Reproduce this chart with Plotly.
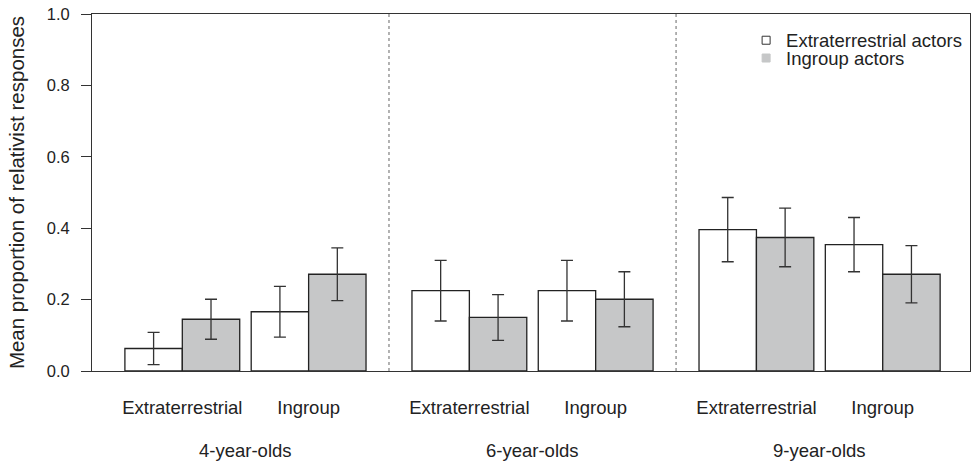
import plotly.graph_objects as go

# ---- data ----
age_groups = ["4-year-olds", "6-year-olds", "9-year-olds"]
conditions = ["Extraterrestrial", "Ingroup"]
series_names = ["Extraterrestrial actors", "Ingroup actors"]

# values ordered: (4y ET, 4y IG, 6y ET, 6y IG, 9y ET, 9y IG)
et_actor_means = [0.063, 0.166, 0.225, 0.225, 0.396, 0.354]
et_actor_err = [0.045, 0.071, 0.085, 0.085, 0.090, 0.076]
ig_actor_means = [0.145, 0.271, 0.150, 0.201, 0.374, 0.271]
ig_actor_err = [0.056, 0.074, 0.064, 0.077, 0.082, 0.080]

y_ticks = [0.0, 0.2, 0.4, 0.6, 0.8, 1.0]

# ---- layout helpers (positions on a numeric axis) ----
GROUP_STEP = 5.0
PAIR_STEP = 2.2
BAR_W = 1.0

pair_centers = []
for g in range(len(age_groups)):
    for p in range(len(conditions)):
        pair_centers.append(g * GROUP_STEP + p * PAIR_STEP)
pair_labels = [c for _ in age_groups for c in conditions]
group_centers = [g * GROUP_STEP + PAIR_STEP / 2 for g in range(len(age_groups))]
separators = []
for g in range(len(age_groups) - 1):
    group_end = g * GROUP_STEP + PAIR_STEP + BAR_W
    next_start = (g + 1) * GROUP_STEP - BAR_W
    separators.append((group_end + next_start) / 2)

FONT = "Liberation Sans, Arial, sans-serif"
TXT = "#222222"
LINE = "#333333"

fig = go.Figure()

err_style = dict(type="data", thickness=1.3, width=6, color="#333333")

fig.add_trace(go.Bar(
    x=[c - BAR_W / 2 for c in pair_centers], y=et_actor_means, width=BAR_W,
    error_y=dict(array=et_actor_err, **err_style),
    marker=dict(color="white", line=dict(color="#222222", width=1.3)),
    name=series_names[0], showlegend=False,
))
fig.add_trace(go.Bar(
    x=[c + BAR_W / 2 for c in pair_centers], y=ig_actor_means, width=BAR_W,
    error_y=dict(array=ig_actor_err, **err_style),
    marker=dict(color="#c6c7c8", line=dict(color="#222222", width=1.3)),
    name=series_names[1], showlegend=False,
))

# legend entries (one legend per row so spacing can match)
fig.add_trace(go.Scatter(
    x=[None], y=[None], mode="markers", name=series_names[0], legend="legend",
    marker=dict(symbol="square", size=8, color="white", line=dict(color="#333333", width=1)),
))
fig.add_trace(go.Scatter(
    x=[None], y=[None], mode="markers", name=series_names[1], legend="legend2",
    marker=dict(symbol="square", size=8, color="#c6c7c8", line=dict(color="#c6c7c8", width=1)),
))

for sx in separators:
    fig.add_shape(type="line", xref="x", yref="y", x0=sx, x1=sx, y0=0, y1=1,
                  line=dict(color="#666666", width=1, dash="dot"))

for gc, name in zip(group_centers, age_groups):
    fig.add_annotation(x=gc, xref="x", y=-0.224, yref="paper", text=name,
                       showarrow=False, yanchor="middle", xanchor="center",
                       font=dict(family=FONT, size=18.5, color=TXT))

legend_common = dict(font=dict(family=FONT, size=18.5, color=TXT), bgcolor="rgba(0,0,0,0)",
                     borderwidth=0, xanchor="left", yanchor="middle", itemclick=False)

fig.update_layout(
    width=973, height=464,
    margin=dict(l=92, r=3, t=14, b=93),
    paper_bgcolor="white", plot_bgcolor="white",
    barmode="overlay",
    font=dict(family=FONT, color=TXT),
    legend=dict(x=0.745, y=1 - (40.7 - 14) / 357, **legend_common),
    legend2=dict(x=0.745, y=1 - (58.5 - 14) / 357, **legend_common),
    xaxis=dict(
        range=[-1.573, 13.72], tickvals=pair_centers, ticktext=pair_labels,
        ticks="", showgrid=False, zeroline=False, automargin=False,
        showline=True, linecolor=LINE, linewidth=1, mirror=True,
        tickfont=dict(family=FONT, size=18.5, color=TXT), ticklabelstandoff=20,
    ),
    yaxis=dict(
        range=[0, 1], tickvals=y_ticks, tickformat=".1f", automargin=False,
        ticks="outside", ticklen=10, tickcolor=LINE, tickwidth=1,
        showgrid=False, zeroline=False,
        showline=True, linecolor=LINE, linewidth=1, mirror=True,
        tickfont=dict(family=FONT, size=16.5, color=TXT), ticklabelstandoff=8,
        title=dict(text="Mean proportion of relativist responses",
                   font=dict(family=FONT, size=20.5, color=TXT), standoff=16),
    ),
)

fig.write_html("out.html", config={"displayModeBar": False},
               post_script="document.body.style.margin='0px';")
